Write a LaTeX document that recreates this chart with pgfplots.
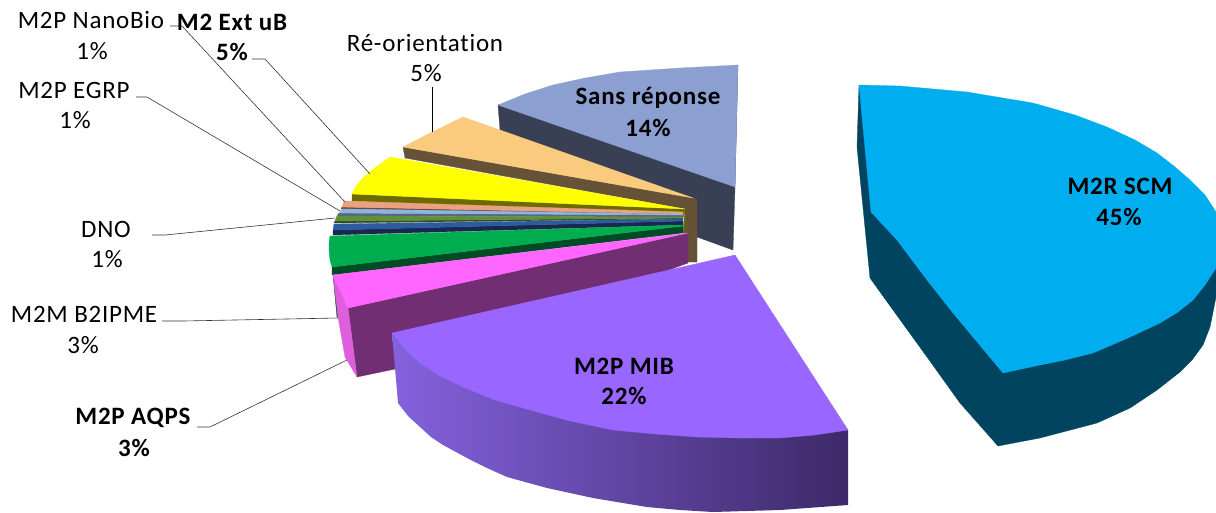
\documentclass[border=0pt]{standalone}
\usepackage{pgfplots}
\pgfplotsset{compat=1.18}
\usepackage{fontspec}
\setmainfont[LetterSpace=3,RawFeature=-liga]{Carlito}
\definecolor{cBlue}{HTML}{00AEEF}
\definecolor{cBlueD}{HTML}{00445F}
\definecolor{cPur}{HTML}{9966FF}
\definecolor{cPurL}{HTML}{8462DE}
\definecolor{cPurR}{HTML}{3D2968}
\definecolor{cSans}{HTML}{8C9FD1}
\definecolor{cSansD}{HTML}{393F55}
\definecolor{cTan}{HTML}{FACB7E}
\definecolor{cTanD}{HTML}{665337}
\definecolor{cYel}{HTML}{FFFF00}
\definecolor{cYelD}{HTML}{6B6B00}
\definecolor{cSal}{HTML}{EBA17F}
\definecolor{cSalD}{HTML}{6E4A3A}
\definecolor{cLB}{HTML}{8DB4E2}
\definecolor{cLBD}{HTML}{56697F}
\definecolor{cSG}{HTML}{60913A}
\definecolor{cSGD}{HTML}{324D1E}
\definecolor{cB}{HTML}{2E5AA0}
\definecolor{cBD}{HTML}{17294F}
\definecolor{cG}{HTML}{00AD4E}
\definecolor{cGD}{HTML}{004A26}
\definecolor{cM}{HTML}{FF66FF}
\definecolor{cMD}{HTML}{722E72}
\definecolor{cML}{HTML}{DD5FDD}
\newcommand{\face}[2]{\addplot[fill=#1,draw=#1,line width=0.3pt] coordinates {#2} --cycle;}
\newcommand{\lead}[1]{\addplot[black!80,line width=0.6pt] coordinates {#1};}
\newcommand{\lbl}[3]{\node[anchor=center,inner sep=0pt,black] at (axis cs:#1,#2) {\fontsize{25}{25}\selectfont #3};}
\begin{document}
\begin{tikzpicture}
\useasboundingbox (0,0) rectangle (1216pt,512pt);
\begin{axis}[
  at={(0,0)},anchor=south west,
  scale only axis,width=1216pt,height=512pt,
  xmin=0,xmax=1216,ymin=0,ymax=512,y dir=reverse,
  hide axis,
]
% Sans reponse
\face{cSansD}{(498,105)(500,130)(697,205)(697,237)(733,250)(735,187)(738,65)}
\face{cSans}{(498,105)(525,94)(553,85)(585,78)(620,72)(680,68)(738,65)(735,187)}
% Re-orientation
\face{cTanD}{(403,147)(405,158)(685,209)(685,262)(697,262)(697,199)(693,198)}
\face{cTan}{(403,147)(432,132)(463,117)(500,130)(693,198)}
% M2 Ext uB
\face{cYelD}{(352,194)(352,201)(685,217)(685,233)(683,233)(685,209)}
\face{cYel}{(352,194)(356,186)(363,178)(376,167)(390,157)(685,209)}
% M2P NanoBio
\face{cSalD}{(342,207)(341,209)(683,215)(683,214)}
\face{cSal}{(346,201)(344,201)(342,207)(683,214)(683,212)}
% M2P EGRP
\face{cLBD}{(339,213)(337,216)(683,217)(683,215)}
\face{cLB}{(342,209)(339,213)(683,215)(683,214)}
% DNO
\face{cSGD}{(335,221)(334,223)(683,219)(683,218)}
\face{cSG}{(337,216)(335,221)(683,218)(683,217)}
% unnamed blue
\face{cBD}{(333,230)(333,235)(683,225)(683,221)}
\face{cB}{(334,224)(333,230)(683,221)(683,219)}
% green
\face{cGD}{(332,267)(332,275)(683,233)(683,226)}
\face{cG}{(330,236)(329,243)(329,250)(330,260)(332,267)(683,226)(683,225)}
% M2M B2IPME
\face{cGD}{(333,275)(337,317)(339,317)(335,275)}
\face{cMD}{(348,308)(357,377)(400,368)(688,263)(688,233)}
\face{cML}{(333,275)(338,317)(345,357)(357,377)(348,308)}
\face{cM}{(333,275)(348,308)(688,233)}
% M2P MIB
\addplot[draw=none,left color=cPurL,right color=cPurR]
  coordinates {(392,333)(398,403)(408,416)(420,427)(431,437)(443,445)(467,458)(487,468)(507,477)(547,488)(593,498)(647,507)(680,510)(713,512)(780,510)(848,505)(848,430)} --cycle;
\face{cPur}{(392,333)(735,255)(848,430)(815,435)(780,438)(738,438)(697,437)(655,434)(613,430)(570,421)(530,410)(495,400)(463,387)(440,376)(420,363)(405,349)}
% M2R SCM
\face{cBlueD}{(859,85)(857,147)(870,278)(893,310)(927,357)(960,403)(998,446)(1040,438)(1097,423)(1130,408)(1157,390)(1180,372)(1192,360)(1203,345)(1210,327)(1216,297)(1216,212)}
\face{cBlue}{(859,85)(900,86)(967,92)(1033,103)(1075,115)(1107,127)(1135,140)(1157,153)(1175,167)(1190,180)(1205,195)(1216,212)(1216,268)(1205,285)(1193,300)(1178,312)(1160,323)(1128,338)(1093,353)(1065,360)(1040,365)(1003,373)(953,313)(927,280)(897,240)(871,212)}
% leaders
\addplot[black,line width=1pt] coordinates {(432,87)(432,132)};
\lead{(252,59)(265,59)(370,174)}
\lead{(170,26)(182,26)(345,202)}
\lead{(136,97)(147,97)(340,211)}
\lead{(152,235)(165,235)(335,218)}
\lead{(162,321)(183,321)(338,318)}
\lead{(197,427)(210,427)(347,360)}
% labels
\lbl{91}{20}{M2P NanoBio}
\lbl{92}{51}{1\%}
\lbl{232}{22}{\bfseries M2 Ext uB}
\lbl{232}{52}{\bfseries 5\%}
\lbl{425}{43}{Ré-orientation}
\lbl{426}{73}{5\%}
\lbl{74}{90}{M2P EGRP}
\lbl{75}{120}{1\%}
\lbl{106}{229}{DNO}
\lbl{107}{259}{1\%}
\lbl{84}{314}{M2M B2IPME}
\lbl{83}{345}{3\%}
\lbl{133}{418}{\bfseries M2P AQPS}
\lbl{134}{448}{\bfseries 3\%}
\lbl{648}{98}{\bfseries Sans réponse}
\lbl{648}{128}{\bfseries 14\%}
\lbl{624}{366}{\bfseries M2P MIB}
\lbl{624}{396}{\bfseries 22\%}
\lbl{1120}{186}{\bfseries M2R SCM}
\lbl{1119}{217}{\bfseries 45\%}
\end{axis}
\end{tikzpicture}
\end{document}
